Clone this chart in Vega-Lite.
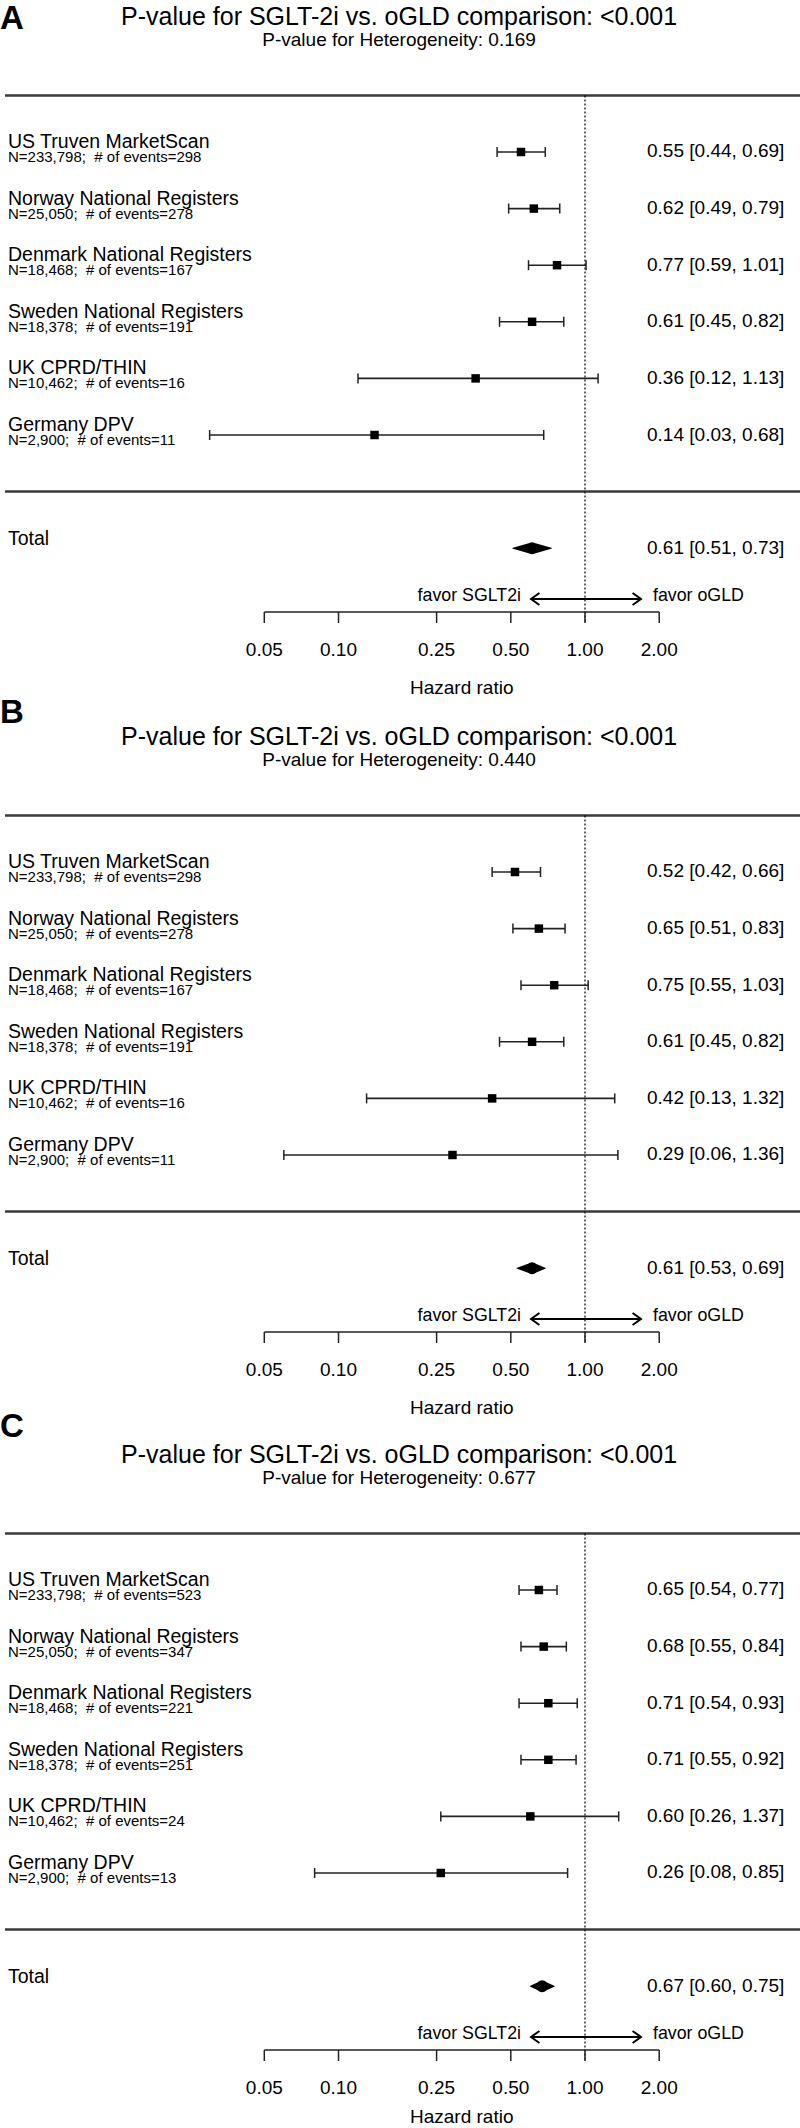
{
  "$schema": "https://vega.github.io/schema/vega-lite/v6.json",
  "padding": 0,
  "spacing": 0,
  "bounds": "flush",
  "config": {
    "view": {"stroke": null},
    "axis": {"disable": true},
    "font": "Liberation Sans",
    "text": {"baseline": "alphabetic", "color": "#000"}
  },
  "datasets": {
    "headers": [
      {"panel": "A", "letter": "A", "title": "P-value for SGLT-2i vs. oGLD comparison: <0.001", "subtitle": "P-value for Heterogeneity: 0.169"},
      {"panel": "B", "letter": "B", "title": "P-value for SGLT-2i vs. oGLD comparison: <0.001", "subtitle": "P-value for Heterogeneity: 0.440"},
      {"panel": "C", "letter": "C", "title": "P-value for SGLT-2i vs. oGLD comparison: <0.001", "subtitle": "P-value for Heterogeneity: 0.677"}
    ],
    "studies": [
      {"panel": "A", "row": 1, "study": "US Truven MarketScan", "info": "N=233,798;\u00a0 # of events=298", "est": 0.55, "lo": 0.44, "hi": 0.69, "ci": "0.55 [0.44, 0.69]"},
      {"panel": "A", "row": 2, "study": "Norway National Registers", "info": "N=25,050;\u00a0 # of events=278", "est": 0.62, "lo": 0.49, "hi": 0.79, "ci": "0.62 [0.49, 0.79]"},
      {"panel": "A", "row": 3, "study": "Denmark National Registers", "info": "N=18,468;\u00a0 # of events=167", "est": 0.77, "lo": 0.59, "hi": 1.01, "ci": "0.77 [0.59, 1.01]"},
      {"panel": "A", "row": 4, "study": "Sweden National Registers", "info": "N=18,378;\u00a0 # of events=191", "est": 0.61, "lo": 0.45, "hi": 0.82, "ci": "0.61 [0.45, 0.82]"},
      {"panel": "A", "row": 5, "study": "UK CPRD/THIN", "info": "N=10,462;\u00a0 # of events=16", "est": 0.36, "lo": 0.12, "hi": 1.13, "ci": "0.36 [0.12, 1.13]"},
      {"panel": "A", "row": 6, "study": "Germany DPV", "info": "N=2,900;\u00a0 # of events=11", "est": 0.14, "lo": 0.03, "hi": 0.68, "ci": "0.14 [0.03, 0.68]"},
      {"panel": "B", "row": 1, "study": "US Truven MarketScan", "info": "N=233,798;\u00a0 # of events=298", "est": 0.52, "lo": 0.42, "hi": 0.66, "ci": "0.52 [0.42, 0.66]"},
      {"panel": "B", "row": 2, "study": "Norway National Registers", "info": "N=25,050;\u00a0 # of events=278", "est": 0.65, "lo": 0.51, "hi": 0.83, "ci": "0.65 [0.51, 0.83]"},
      {"panel": "B", "row": 3, "study": "Denmark National Registers", "info": "N=18,468;\u00a0 # of events=167", "est": 0.75, "lo": 0.55, "hi": 1.03, "ci": "0.75 [0.55, 1.03]"},
      {"panel": "B", "row": 4, "study": "Sweden National Registers", "info": "N=18,378;\u00a0 # of events=191", "est": 0.61, "lo": 0.45, "hi": 0.82, "ci": "0.61 [0.45, 0.82]"},
      {"panel": "B", "row": 5, "study": "UK CPRD/THIN", "info": "N=10,462;\u00a0 # of events=16", "est": 0.42, "lo": 0.13, "hi": 1.32, "ci": "0.42 [0.13, 1.32]"},
      {"panel": "B", "row": 6, "study": "Germany DPV", "info": "N=2,900;\u00a0 # of events=11", "est": 0.29, "lo": 0.06, "hi": 1.36, "ci": "0.29 [0.06, 1.36]"},
      {"panel": "C", "row": 1, "study": "US Truven MarketScan", "info": "N=233,798;\u00a0 # of events=523", "est": 0.65, "lo": 0.54, "hi": 0.77, "ci": "0.65 [0.54, 0.77]"},
      {"panel": "C", "row": 2, "study": "Norway National Registers", "info": "N=25,050;\u00a0 # of events=347", "est": 0.68, "lo": 0.55, "hi": 0.84, "ci": "0.68 [0.55, 0.84]"},
      {"panel": "C", "row": 3, "study": "Denmark National Registers", "info": "N=18,468;\u00a0 # of events=221", "est": 0.71, "lo": 0.54, "hi": 0.93, "ci": "0.71 [0.54, 0.93]"},
      {"panel": "C", "row": 4, "study": "Sweden National Registers", "info": "N=18,378;\u00a0 # of events=251", "est": 0.71, "lo": 0.55, "hi": 0.92, "ci": "0.71 [0.55, 0.92]"},
      {"panel": "C", "row": 5, "study": "UK CPRD/THIN", "info": "N=10,462;\u00a0 # of events=24", "est": 0.60, "lo": 0.26, "hi": 1.37, "ci": "0.60 [0.26, 1.37]"},
      {"panel": "C", "row": 6, "study": "Germany DPV", "info": "N=2,900;\u00a0 # of events=13", "est": 0.26, "lo": 0.08, "hi": 0.85, "ci": "0.26 [0.08, 0.85]"}
    ],
    "totals": [
      {"panel": "A", "label": "Total", "est": 0.61, "lo": 0.51, "hi": 0.73, "ci": "0.61 [0.51, 0.73]"},
      {"panel": "B", "label": "Total", "est": 0.61, "lo": 0.53, "hi": 0.69, "ci": "0.61 [0.53, 0.69]"},
      {"panel": "C", "label": "Total", "est": 0.67, "lo": 0.60, "hi": 0.75, "ci": "0.67 [0.60, 0.75]"}
    ],
    "ticks": [{"hr": 0.05}, {"hr": 0.1}, {"hr": 0.25}, {"hr": 0.5}, {"hr": 1}, {"hr": 2}]
  },
  "vconcat": [
    {
      "width": 800, "height": 720,
      "data": {"name": "headers"},
      "transform": [{"filter": "datum.panel === 'A'"}],
      "layer": [
        {"mark": {"type": "rule", "color": "#3a3a3a", "strokeWidth": 2.5},
         "encoding": {"x": {"datum": 0.004434, "type": "quantitative", "scale": {"type": "log", "domain": [0.004233, 7.452], "nice": false}},
                      "x2": {"datum": 7.452},
                      "y": {"datum": 0, "type": "quantitative", "scale": {"domain": [-1.6855, 11.0353], "reverse": true, "nice": false, "zero": false}}}},
        {"mark": {"type": "rule", "color": "#3a3a3a", "strokeWidth": 2.5},
         "encoding": {"x": {"datum": 0.004434}, "x2": {"datum": 7.452}, "y": {"datum": 7}}},
        {"mark": {"type": "rule", "color": "#000", "strokeWidth": 1.2, "strokeDash": [2, 2]},
         "encoding": {"x": {"datum": 1}, "y": {"datum": 0}, "y2": {"datum": 9.322}}},
        {"mark": {"type": "text", "align": "left", "fontSize": 33, "fontWeight": "bold"},
         "encoding": {"x": {"datum": 0.004233}, "y": {"datum": -1.168}, "text": {"field": "letter"}}},
        {"mark": {"type": "text", "align": "center", "fontSize": 25},
         "encoding": {"x": {"datum": 0.1761}, "y": {"datum": -1.244}, "text": {"field": "title"}}},
        {"mark": {"type": "text", "align": "center", "fontSize": 19},
         "encoding": {"x": {"datum": 0.1761}, "y": {"datum": -0.864}, "text": {"field": "subtitle"}}},
        {"mark": {"type": "rule", "color": "#000", "strokeWidth": 2},
         "encoding": {"x": {"datum": 0.604}, "x2": {"datum": 1.687}, "y": {"datum": 8.897}}},
        {"mark": {"type": "point", "shape": "M1.4,-1L0,0L1.4,1", "size": 144, "filled": false, "color": "#000", "strokeWidth": 2, "opacity": 1},
         "encoding": {"x": {"datum": 0.604}, "y": {"datum": 8.897}}},
        {"mark": {"type": "point", "shape": "M-1.4,-1L0,0L-1.4,1", "size": 144, "filled": false, "color": "#000", "strokeWidth": 2, "opacity": 1},
         "encoding": {"x": {"datum": 1.687}, "y": {"datum": 8.897}}},
        {"mark": {"type": "text", "align": "right", "fontSize": 17.8},
         "encoding": {"x": {"datum": 0.55}, "y": {"datum": 8.933}, "text": {"value": "favor SGLT2i"}}},
        {"mark": {"type": "text", "align": "left", "fontSize": 17.8},
         "encoding": {"x": {"datum": 1.887}, "y": {"datum": 8.933}, "text": {"value": "favor oGLD"}}},
        {"mark": {"type": "rule", "color": "#222", "strokeWidth": 1.5},
         "encoding": {"x": {"datum": 0.05}, "x2": {"datum": 2}, "y": {"datum": 9.127}}},
        {"data": {"name": "ticks"},
         "mark": {"type": "rule", "color": "#222", "strokeWidth": 1.5},
         "encoding": {"x": {"field": "hr", "type": "quantitative"}, "y": {"datum": 9.127}, "y2": {"datum": 9.322}}},
        {"data": {"name": "ticks"},
         "mark": {"type": "text", "align": "center", "fontSize": 19},
         "encoding": {"x": {"field": "hr", "type": "quantitative"}, "y": {"datum": 9.9}, "text": {"field": "hr", "type": "quantitative", "format": ".2f"}}},
        {"mark": {"type": "text", "align": "center", "fontSize": 19},
         "encoding": {"x": {"datum": 0.3162}, "y": {"datum": 10.576}, "text": {"value": "Hazard ratio"}}},
        {"data": {"name": "studies"},
         "transform": [{"filter": "datum.panel === 'A'"}],
         "encoding": {"y": {"field": "row", "type": "quantitative"}},
         "layer": [
           {"mark": {"type": "rule", "color": "#222", "strokeWidth": 1.6}, "encoding": {"x": {"field": "lo", "type": "quantitative"}, "x2": {"field": "hi"}}},
           {"mark": {"type": "tick", "orient": "vertical", "size": 10, "thickness": 1.5, "color": "#222", "opacity": 1}, "encoding": {"x": {"field": "lo", "type": "quantitative"}}},
           {"mark": {"type": "tick", "orient": "vertical", "size": 10, "thickness": 1.5, "color": "#222", "opacity": 1}, "encoding": {"x": {"field": "hi", "type": "quantitative"}}},
           {"mark": {"type": "point", "shape": "square", "filled": true, "size": 72, "color": "#000", "opacity": 1}, "encoding": {"x": {"field": "est", "type": "quantitative"}}},
           {"mark": {"type": "text", "align": "left", "fontSize": 19.5, "dy": -4}, "encoding": {"x": {"datum": 0.00456}, "text": {"field": "study"}}},
           {"mark": {"type": "text", "align": "left", "fontSize": 15, "dy": 10}, "encoding": {"x": {"datum": 0.00456}, "text": {"field": "info"}}},
           {"mark": {"type": "text", "align": "left", "fontSize": 19, "dy": 5.5}, "encoding": {"x": {"datum": 1.785}, "text": {"field": "ci"}}}
         ]},
        {"data": {"name": "totals"},
         "transform": [{"filter": "datum.panel === 'A'"}],
         "layer": [
           {"mark": {"type": "text", "align": "left", "fontSize": 19.5, "dy": -3.5}, "encoding": {"x": {"datum": 0.00456}, "y": {"datum": 8}, "text": {"field": "label"}}},
           {"mark": {"type": "text", "align": "left", "fontSize": 19, "dy": 5.5}, "encoding": {"x": {"datum": 1.785}, "y": {"datum": 8}, "text": {"field": "ci"}}},
           {"transform": [{"fold": ["lo", "est", "hi"], "as": ["key", "value"]}],
            "mark": {"type": "trail", "color": "#000"},
            "encoding": {"x": {"field": "value", "type": "quantitative"}, "y": {"datum": 8}, "order": {"field": "value", "type": "quantitative"},
                         "size": {"condition": {"test": "datum.key === 'est'", "value": 12}, "value": 0}}}
         ]}
      ]
    },
    {
      "width": 800, "height": 718,
      "data": {"name": "headers"},
      "transform": [{"filter": "datum.panel === 'B'"}],
      "layer": [
        {"mark": {"type": "rule", "color": "#3a3a3a", "strokeWidth": 2.5},
         "encoding": {"x": {"datum": 0.004434, "type": "quantitative", "scale": {"type": "log", "domain": [0.004233, 7.452], "nice": false}},
                      "x2": {"datum": 7.452},
                      "y": {"datum": 0, "type": "quantitative", "scale": {"domain": [-1.6855, 11.0], "reverse": true, "nice": false, "zero": false}}}},
        {"mark": {"type": "rule", "color": "#3a3a3a", "strokeWidth": 2.5},
         "encoding": {"x": {"datum": 0.004434}, "x2": {"datum": 7.452}, "y": {"datum": 7}}},
        {"mark": {"type": "rule", "color": "#000", "strokeWidth": 1.2, "strokeDash": [2, 2]},
         "encoding": {"x": {"datum": 1}, "y": {"datum": 0}, "y2": {"datum": 9.322}}},
        {"mark": {"type": "text", "align": "left", "fontSize": 33, "fontWeight": "bold"},
         "encoding": {"x": {"datum": 0.004233}, "y": {"datum": -1.633}, "text": {"field": "letter"}}},
        {"mark": {"type": "text", "align": "center", "fontSize": 25},
         "encoding": {"x": {"datum": 0.1761}, "y": {"datum": -1.244}, "text": {"field": "title"}}},
        {"mark": {"type": "text", "align": "center", "fontSize": 19},
         "encoding": {"x": {"datum": 0.1761}, "y": {"datum": -0.864}, "text": {"field": "subtitle"}}},
        {"mark": {"type": "rule", "color": "#000", "strokeWidth": 2},
         "encoding": {"x": {"datum": 0.604}, "x2": {"datum": 1.687}, "y": {"datum": 8.897}}},
        {"mark": {"type": "point", "shape": "M1.4,-1L0,0L1.4,1", "size": 144, "filled": false, "color": "#000", "strokeWidth": 2, "opacity": 1},
         "encoding": {"x": {"datum": 0.604}, "y": {"datum": 8.897}}},
        {"mark": {"type": "point", "shape": "M-1.4,-1L0,0L-1.4,1", "size": 144, "filled": false, "color": "#000", "strokeWidth": 2, "opacity": 1},
         "encoding": {"x": {"datum": 1.687}, "y": {"datum": 8.897}}},
        {"mark": {"type": "text", "align": "right", "fontSize": 17.8},
         "encoding": {"x": {"datum": 0.55}, "y": {"datum": 8.933}, "text": {"value": "favor SGLT2i"}}},
        {"mark": {"type": "text", "align": "left", "fontSize": 17.8},
         "encoding": {"x": {"datum": 1.887}, "y": {"datum": 8.933}, "text": {"value": "favor oGLD"}}},
        {"mark": {"type": "rule", "color": "#222", "strokeWidth": 1.5},
         "encoding": {"x": {"datum": 0.05}, "x2": {"datum": 2}, "y": {"datum": 9.127}}},
        {"data": {"name": "ticks"},
         "mark": {"type": "rule", "color": "#222", "strokeWidth": 1.5},
         "encoding": {"x": {"field": "hr", "type": "quantitative"}, "y": {"datum": 9.127}, "y2": {"datum": 9.322}}},
        {"data": {"name": "ticks"},
         "mark": {"type": "text", "align": "center", "fontSize": 19},
         "encoding": {"x": {"field": "hr", "type": "quantitative"}, "y": {"datum": 9.9}, "text": {"field": "hr", "type": "quantitative", "format": ".2f"}}},
        {"mark": {"type": "text", "align": "center", "fontSize": 19},
         "encoding": {"x": {"datum": 0.3162}, "y": {"datum": 10.576}, "text": {"value": "Hazard ratio"}}},
        {"data": {"name": "studies"},
         "transform": [{"filter": "datum.panel === 'B'"}],
         "encoding": {"y": {"field": "row", "type": "quantitative"}},
         "layer": [
           {"mark": {"type": "rule", "color": "#222", "strokeWidth": 1.6}, "encoding": {"x": {"field": "lo", "type": "quantitative"}, "x2": {"field": "hi"}}},
           {"mark": {"type": "tick", "orient": "vertical", "size": 10, "thickness": 1.5, "color": "#222", "opacity": 1}, "encoding": {"x": {"field": "lo", "type": "quantitative"}}},
           {"mark": {"type": "tick", "orient": "vertical", "size": 10, "thickness": 1.5, "color": "#222", "opacity": 1}, "encoding": {"x": {"field": "hi", "type": "quantitative"}}},
           {"mark": {"type": "point", "shape": "square", "filled": true, "size": 72, "color": "#000", "opacity": 1}, "encoding": {"x": {"field": "est", "type": "quantitative"}}},
           {"mark": {"type": "text", "align": "left", "fontSize": 19.5, "dy": -4}, "encoding": {"x": {"datum": 0.00456}, "text": {"field": "study"}}},
           {"mark": {"type": "text", "align": "left", "fontSize": 15, "dy": 10}, "encoding": {"x": {"datum": 0.00456}, "text": {"field": "info"}}},
           {"mark": {"type": "text", "align": "left", "fontSize": 19, "dy": 5.5}, "encoding": {"x": {"datum": 1.785}, "text": {"field": "ci"}}}
         ]},
        {"data": {"name": "totals"},
         "transform": [{"filter": "datum.panel === 'B'"}],
         "layer": [
           {"mark": {"type": "text", "align": "left", "fontSize": 19.5, "dy": -3.5}, "encoding": {"x": {"datum": 0.00456}, "y": {"datum": 8}, "text": {"field": "label"}}},
           {"mark": {"type": "text", "align": "left", "fontSize": 19, "dy": 5.5}, "encoding": {"x": {"datum": 1.785}, "y": {"datum": 8}, "text": {"field": "ci"}}},
           {"transform": [{"fold": ["lo", "est", "hi"], "as": ["key", "value"]}],
            "mark": {"type": "trail", "color": "#000"},
            "encoding": {"x": {"field": "value", "type": "quantitative"}, "y": {"datum": 8}, "order": {"field": "value", "type": "quantitative"},
                         "size": {"condition": {"test": "datum.key === 'est'", "value": 12}, "value": 0}}}
         ]}
      ]
    },
    {
      "width": 800, "height": 690,
      "data": {"name": "headers"},
      "transform": [{"filter": "datum.panel === 'C'"}],
      "layer": [
        {"mark": {"type": "rule", "color": "#3a3a3a", "strokeWidth": 2.5},
         "encoding": {"x": {"datum": 0.004434, "type": "quantitative", "scale": {"type": "log", "domain": [0.004233, 7.452], "nice": false}},
                      "x2": {"datum": 7.452},
                      "y": {"datum": 0, "type": "quantitative", "scale": {"domain": [-1.6855, 10.5053], "reverse": true, "nice": false, "zero": false}}}},
        {"mark": {"type": "rule", "color": "#3a3a3a", "strokeWidth": 2.5},
         "encoding": {"x": {"datum": 0.004434}, "x2": {"datum": 7.452}, "y": {"datum": 7}}},
        {"mark": {"type": "rule", "color": "#000", "strokeWidth": 1.2, "strokeDash": [2, 2]},
         "encoding": {"x": {"datum": 1}, "y": {"datum": 0}, "y2": {"datum": 9.322}}},
        {"mark": {"type": "text", "align": "left", "fontSize": 33, "fontWeight": "bold"},
         "encoding": {"x": {"datum": 0.004233}, "y": {"datum": -1.703}, "text": {"field": "letter"}}},
        {"mark": {"type": "text", "align": "center", "fontSize": 25},
         "encoding": {"x": {"datum": 0.1761}, "y": {"datum": -1.244}, "text": {"field": "title"}}},
        {"mark": {"type": "text", "align": "center", "fontSize": 19},
         "encoding": {"x": {"datum": 0.1761}, "y": {"datum": -0.864}, "text": {"field": "subtitle"}}},
        {"mark": {"type": "rule", "color": "#000", "strokeWidth": 2},
         "encoding": {"x": {"datum": 0.604}, "x2": {"datum": 1.687}, "y": {"datum": 8.897}}},
        {"mark": {"type": "point", "shape": "M1.4,-1L0,0L1.4,1", "size": 144, "filled": false, "color": "#000", "strokeWidth": 2, "opacity": 1},
         "encoding": {"x": {"datum": 0.604}, "y": {"datum": 8.897}}},
        {"mark": {"type": "point", "shape": "M-1.4,-1L0,0L-1.4,1", "size": 144, "filled": false, "color": "#000", "strokeWidth": 2, "opacity": 1},
         "encoding": {"x": {"datum": 1.687}, "y": {"datum": 8.897}}},
        {"mark": {"type": "text", "align": "right", "fontSize": 17.8},
         "encoding": {"x": {"datum": 0.55}, "y": {"datum": 8.933}, "text": {"value": "favor SGLT2i"}}},
        {"mark": {"type": "text", "align": "left", "fontSize": 17.8},
         "encoding": {"x": {"datum": 1.887}, "y": {"datum": 8.933}, "text": {"value": "favor oGLD"}}},
        {"mark": {"type": "rule", "color": "#222", "strokeWidth": 1.5},
         "encoding": {"x": {"datum": 0.05}, "x2": {"datum": 2}, "y": {"datum": 9.127}}},
        {"data": {"name": "ticks"},
         "mark": {"type": "rule", "color": "#222", "strokeWidth": 1.5},
         "encoding": {"x": {"field": "hr", "type": "quantitative"}, "y": {"datum": 9.127}, "y2": {"datum": 9.322}}},
        {"data": {"name": "ticks"},
         "mark": {"type": "text", "align": "center", "fontSize": 19},
         "encoding": {"x": {"field": "hr", "type": "quantitative"}, "y": {"datum": 9.9}, "text": {"field": "hr", "type": "quantitative", "format": ".2f"}}},
        {"mark": {"type": "text", "align": "center", "fontSize": 19},
         "encoding": {"x": {"datum": 0.3162}, "y": {"datum": 10.41}, "text": {"value": "Hazard ratio"}}},
        {"data": {"name": "studies"},
         "transform": [{"filter": "datum.panel === 'C'"}],
         "encoding": {"y": {"field": "row", "type": "quantitative"}},
         "layer": [
           {"mark": {"type": "rule", "color": "#222", "strokeWidth": 1.6}, "encoding": {"x": {"field": "lo", "type": "quantitative"}, "x2": {"field": "hi"}}},
           {"mark": {"type": "tick", "orient": "vertical", "size": 10, "thickness": 1.5, "color": "#222", "opacity": 1}, "encoding": {"x": {"field": "lo", "type": "quantitative"}}},
           {"mark": {"type": "tick", "orient": "vertical", "size": 10, "thickness": 1.5, "color": "#222", "opacity": 1}, "encoding": {"x": {"field": "hi", "type": "quantitative"}}},
           {"mark": {"type": "point", "shape": "square", "filled": true, "size": 72, "color": "#000", "opacity": 1}, "encoding": {"x": {"field": "est", "type": "quantitative"}}},
           {"mark": {"type": "text", "align": "left", "fontSize": 19.5, "dy": -4}, "encoding": {"x": {"datum": 0.00456}, "text": {"field": "study"}}},
           {"mark": {"type": "text", "align": "left", "fontSize": 15, "dy": 10}, "encoding": {"x": {"datum": 0.00456}, "text": {"field": "info"}}},
           {"mark": {"type": "text", "align": "left", "fontSize": 19, "dy": 5.5}, "encoding": {"x": {"datum": 1.785}, "text": {"field": "ci"}}}
         ]},
        {"data": {"name": "totals"},
         "transform": [{"filter": "datum.panel === 'C'"}],
         "layer": [
           {"mark": {"type": "text", "align": "left", "fontSize": 19.5, "dy": -3.5}, "encoding": {"x": {"datum": 0.00456}, "y": {"datum": 8}, "text": {"field": "label"}}},
           {"mark": {"type": "text", "align": "left", "fontSize": 19, "dy": 5.5}, "encoding": {"x": {"datum": 1.785}, "y": {"datum": 8}, "text": {"field": "ci"}}},
           {"transform": [{"fold": ["lo", "est", "hi"], "as": ["key", "value"]}],
            "mark": {"type": "trail", "color": "#000"},
            "encoding": {"x": {"field": "value", "type": "quantitative"}, "y": {"datum": 8}, "order": {"field": "value", "type": "quantitative"},
                         "size": {"condition": {"test": "datum.key === 'est'", "value": 12}, "value": 0}}}
         ]}
      ]
    }
  ]
}
